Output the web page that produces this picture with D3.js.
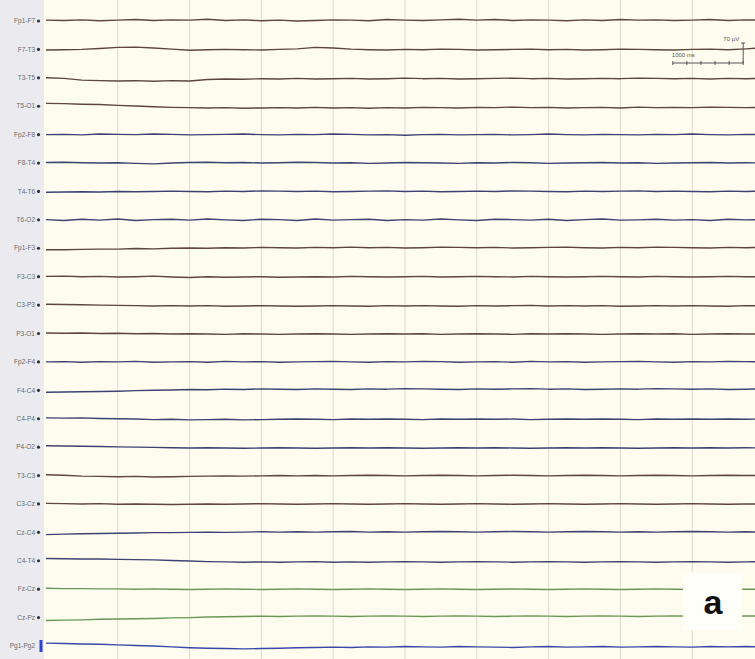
<!DOCTYPE html>
<html>
<head>
<meta charset="utf-8">
<script src="https://cdn.jsdelivr.net/npm/d3@7"></script>
<style>
  body { margin: 0; background: #fff; }
  svg { display: block; }
</style>
</head>
<body>
<svg id="eeg"></svg>
<script>
// montage channels, top to bottom
const channels = ["Fp1-F7", "F7-T3", "T3-T5", "T5-O1", "Fp2-F8", "F8-T4", "T4-T6", "T6-O2",
  "Fp1-F3", "F3-C3", "C3-P3", "P3-O1", "Fp2-F4", "F4-C4", "C4-P4", "P4-O2",
  "T3-C3", "C3-Cz", "Cz-C4", "C4-T4", "Fz-Cz", "Cz-Pz", "Pg1-Pg2"];

// colour group per channel: l = left chain, r = right chain, z = midline, p = pg
const groups = ["l", "l", "l", "l", "r", "r", "r", "r", "l", "l", "l", "l",
  "r", "r", "r", "r", "l", "l", "r", "r", "z", "z", "p"];

// time axis (s), one sample per 0.25 s
const times = d3.range(0, 10.001, 0.25);
const gridTimes = [1, 2, 3, 4, 5, 6, 7, 8, 9];

// traces in µV
const traces = [
  [3, 2, 4, 1, 3, 5, 2, 4, 3, 6, 2, 4, 1, 3, 0, 2, 4, 3, 1, 5, 3, 2, 4, 6, 3, 5, 2, 4, 3, 1, 4, 2, 5, 3, 4, 2, 3, 5, 2, 4, 3],
  [-2, -1, 0, 3, 7, 8, 5, 1, -3, -1, 0, -1, -2, 0, 2, 7, 5, 1, -1, -2, 0, -1, 1, 0, -2, -1, 0, 1, -1, 0, -2, -1, 1, 0, -1, -2, 0, 1, -1, 2, 6],
  [0, -2, -8, -10, -11, -10, -12, -10, -11, -6, -4, -5, -3, -4, -2, -4, -3, -2, -4, -3, -1, -3, -2, -4, -3, -2, -1, -3, -2, -4, -3, -2, -3, -1, -2, -3, -2, -4, -2, -3, -2],
  [10, 9, 7, 6, 3, 1, -2, -4, -5, -6, -5, -7, -6, -5, -6, -4, -6, -5, -7, -5, -6, -4, -5, -6, -4, -5, -3, -5, -4, -6, -5, -4, -6, -3, -5, -4, -5, -3, -4, -5, -4],
  [0, 1, -1, 2, 1, 0, 2, 1, -1, 0, 1, 2, 0, -1, 1, 0, 2, 1, -1, 0, -2, 0, 1, -1, 0, 1, -1, 0, 2, 0, -1, 1, 0, -1, 1, 0, 2, 0, -1, 1, 0],
  [2, 3, 1, 0, 1, -1, -3, 0, 2, 3, 1, 2, 0, 1, 3, 2, 0, 1, -1, 0, 2, 1, 0, -1, 1, 0, 2, 1, -1, 0, 1, 2, 0, 1, -1, 0, 1, 2, 0, 1, 0],
  [-3, -2, -1, -2, 0, -1, 0, 1, 0, -1, 1, 0, 2, 1, 0, 1, -1, 0, 1, 2, 0, 1, -1, 0, 1, 0, 2, 1, 0, -1, 1, 0, 1, 2, 0, 1, 0, -1, 1, 0, 1],
  [1, -2, 2, -1, 3, -2, 1, 2, -1, 3, 0, -2, 2, 1, -2, 3, -1, 1, 2, -2, 1, -1, 3, 0, -2, 2, 1, -1, 2, -2, 1, 3, -1, 0, 2, -1, 1, -2, 2, 0, 1],
  [-5, -5, -4, -3, -3, -1, -2, 0, 1, 0, 2, 1, 3, 2, 1, 3, 2, 4, 2, 3, 1, 2, 4, 3, 2, 3, 1, 2, 3, 4, 2, 1, 3, 2, 4, 3, 2, 1, 3, 2, 3],
  [1, 2, 0, 1, -1, 0, 2, -1, -3, 0, -2, -1, 0, -2, -1, 0, -1, 1, 0, -1, 0, 1, -1, 0, 1, 0, -1, 1, 0, -1, 0, 1, 0, -1, 1, 0, -1, 0, 1, 0, -1],
  [3, 2, 1, 0, -1, -2, -3, -2, -3, -2, -4, -3, -2, -3, -4, -3, -2, -3, -4, -2, -3, -2, -3, -4, -2, -3, -2, -1, -3, -2, -3, -2, -4, -3, -2, -3, -2, -3, -4, -2, -3],
  [2, 1, 2, 0, 1, -1, 0, -2, -1, -2, -3, -1, -2, -3, -2, -1, -2, -3, -2, -1, -2, -1, -3, -2, -1, -2, -3, -1, -2, -1, -2, -3, -2, -1, -2, -1, -3, -2, -1, -2, -1],
  [0, 1, -1, 1, 0, 2, -1, 0, 1, -1, 2, 0, 1, -1, 0, 1, 2, 0, -1, 1, 0, 2, 1, -1, 0, 1, -1, 2, 0, 1, -1, 0, 1, 2, 0, -1, 1, 0, 2, 1, 0],
  [-7, -6, -5, -4, -3, -1, 0, 1, 3, 2, 4, 3, 5, 4, 3, 5, 4, 3, 5, 4, 6, 5, 4, 3, 5, 4, 5, 6, 4, 5, 3, 4, 5, 4, 6, 5, 4, 5, 3, 4, 5],
  [3, 2, 3, 1, 0, -1, -3, -2, -4, -3, -2, -4, -3, -2, -1, -2, -3, -1, -2, -1, -2, -3, -1, -2, -1, -2, -1, -3, -2, -1, -2, -1, -2, -3, -1, -2, -1, -2, -1, -2, -1],
  [5, 4, 3, 2, 1, 0, -1, -2, -3, -2, -3, -4, -3, -2, -3, -4, -3, -2, -3, -2, -3, -4, -3, -2, -3, -2, -3, -4, -3, -2, -3, -2, -3, -4, -3, -2, -3, -2, -3, -2, -3],
  [3, 1, -2, -3, -4, -3, -5, -4, -3, -2, -1, -2, -1, 0, -1, 0, -1, 0, 1, 0, -1, 0, 1, 0, -1, 0, 1, 0, -1, 0, 1, 0, -1, 0, 1, 0, -1, 0, 1, 0, 0],
  [2, 1, 0, 1, -1, 0, -1, -2, -1, 0, -1, 0, 1, 0, -1, 0, 1, 0, -1, 0, 1, 0, -1, 0, 1, 0, -1, 0, 1, 0, -1, 0, 1, 0, -1, 0, 1, 0, -1, 0, 0],
  [-8, -6, -5, -4, -3, -2, -1, -1, 0, 1, 0, 1, 2, 1, 2, 1, 2, 3, 1, 2, 1, 2, 3, 2, 1, 2, 3, 2, 1, 2, 3, 2, 1, 2, 1, 2, 3, 2, 1, 2, 1],
  [8, 7, 6, 6, 5, 4, 3, 1, -1, -3, -4, -5, -4, -5, -4, -3, -5, -4, -5, -4, -3, -4, -5, -4, -3, -4, -5, -4, -3, -4, -5, -4, -3, -4, -5, -4, -3, -4, -5, -4, -3],
  [3, 2, 2, 1, 1, 0, 1, 0, -1, 0, 1, 0, -1, 0, 1, 0, -1, 0, 1, 0, -1, 0, 1, 0, -1, 0, 1, 0, -1, 0, 1, 0, -1, 0, 1, 0, -1, 0, 1, 0, 0],
  [-10, -9, -8, -6, -5, -4, -3, -1, 0, 2, 3, 4, 5, 4, 5, 6, 5, 4, 5, 6, 5, 4, 5, 6, 5, 4, 5, 6, 5, 4, 5, 6, 5, 4, 5, 6, 5, 4, 5, 6, 5],
  [10, 9, 7, 6, 4, 2, 0, -3, -6, -8, -9, -10, -9, -8, -6, -5, -4, -5, -3, -4, -2, -3, -4, -2, -3, -4, -5, -3, -2, -4, -3, -2, -4, -3, -2, -3, -4, -2, -3, -2, -3]
];

const colors = { l: "#5e463d", r: "#3f4172", z: "#6a9656", p: "#3a47a8" };

const W = 755, H = 659, panelW = 44;

const svg = d3.select("#eeg").attr("width", W).attr("height", H);

const x = d3.scaleLinear().domain([0, 10]).range([46, 764]);
const y = d3.scalePoint().domain(channels).range([21, 646]);
const amp = d3.scaleLinear().domain([-70, 70]).range([20, -20]); // 70 µV ≈ 20 px

svg.append("defs").append("clipPath").attr("id", "plotClip")
  .append("rect").attr("x", panelW).attr("y", 0).attr("width", W - panelW).attr("height", H);

// backgrounds
svg.append("rect").attr("x", 0).attr("y", 0).attr("width", panelW).attr("height", H).attr("fill", "#ebebef");
svg.append("rect").attr("x", panelW).attr("y", 0).attr("width", W - panelW).attr("height", H).attr("fill", "#fdfcef");

const plot = svg.append("g").attr("clip-path", "url(#plotClip)");

// 1 s grid
plot.selectAll("line.grid").data(gridTimes).join("line")
  .attr("class", "grid")
  .attr("x1", d => x(d)).attr("x2", d => x(d))
  .attr("y1", 0).attr("y2", H)
  .attr("stroke", "#dcdbd2").attr("stroke-width", 1);

const line = d3.line()
  .x((d, i) => x(times[i]))
  .y(d => amp(d));

plot.selectAll("path.trace").data(traces).join("path")
  .attr("class", "trace")
  .attr("transform", (d, i) => `translate(0,${y(channels[i])})`)
  .attr("d", line)
  .attr("fill", "none")
  .attr("stroke", (d, i) => colors[groups[i]])
  .attr("stroke-width", 1.4)
  .attr("stroke-linejoin", "round");

// channel labels
const labels = svg.append("g");
labels.selectAll("text").data(channels).join("text")
  .attr("x", 35).attr("y", d => y(d) + 2.2)
  .attr("text-anchor", "end")
  .attr("font-family", "Liberation Sans, Arial, sans-serif")
  .attr("font-size", 6.5)
  .attr("fill", "#6a6a6a")
  .text(d => d);
labels.selectAll("circle").data(channels.slice(0, -1)).join("circle")
  .attr("cx", 38.5).attr("cy", d => y(d)).attr("r", 1.6).attr("fill", "#333");
// Pg marker
svg.append("rect").attr("x", 39.5).attr("y", y("Pg1-Pg2") - 6).attr("width", 3).attr("height", 12).attr("fill", "#2f3fd0");

// calibration bar: 1 s x 70 µV
const cal = svg.append("g").attr("stroke", "#555").attr("stroke-width", 1).attr("fill", "none");
const calY = 63, calT0 = 8.73, calT1 = 9.71;
cal.append("line").attr("x1", x(calT0)).attr("x2", x(calT1)).attr("y1", calY).attr("y2", calY);
d3.range(0, 6).forEach(k => {
  const xx = x(calT0 + k * (calT1 - calT0) / 5);
  cal.append("line").attr("x1", xx).attr("x2", xx).attr("y1", calY - 2).attr("y2", calY + 2);
});
cal.append("line").attr("x1", x(calT1)).attr("x2", x(calT1))
  .attr("y1", calY + amp(70)).attr("y2", calY);
cal.append("line").attr("x1", x(calT1) - 2).attr("x2", x(calT1) + 2)
  .attr("y1", calY + amp(70)).attr("y2", calY + amp(70));
svg.append("text").attr("x", x(calT1) - 4).attr("y", 41)
  .attr("text-anchor", "end").attr("font-family", "Liberation Sans, Arial, sans-serif")
  .attr("font-size", 6).attr("fill", "#555").text("70 µV");
svg.append("text").attr("x", x(calT0) - 1).attr("y", 57)
  .attr("font-family", "Liberation Sans, Arial, sans-serif")
  .attr("font-size", 6).attr("fill", "#555").text("1000 ms");

// panel tag
svg.append("rect").attr("x", 683).attr("y", 573).attr("width", 59).attr("height", 57).attr("fill", "#fffffa");
svg.append("text").attr("x", 713).attr("y", 614)
  .attr("text-anchor", "middle")
  .attr("font-family", "Liberation Sans, Arial, sans-serif")
  .attr("font-weight", "bold").attr("font-size", 34)
  .attr("fill", "#111").text("a");
</script>
</body>
</html>
